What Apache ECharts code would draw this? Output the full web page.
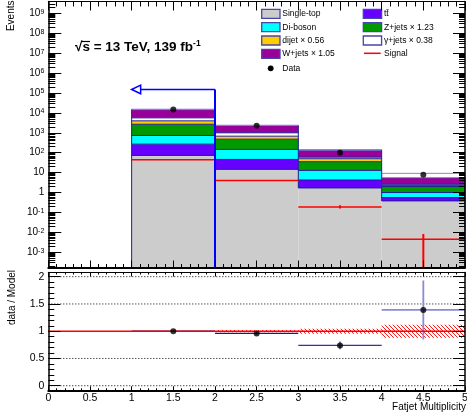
<!DOCTYPE html>
<html>
<head>
<meta charset="utf-8">
<script src="https://cdn.jsdelivr.net/npm/echarts@6/dist/echarts.min.js"></script>
<style>
  html, body { margin: 0; padding: 0; background: #ffffff; }
  #chart { width: 467px; height: 418px; }
</style>
</head>
<body>
<div id="chart"></div>
<script>
// Fatjet multiplicity: stacked background model, signal and data, with data / model ratio.

// Bins
const binLow = [1, 2, 3, 4];
const binHigh = [2, 3, 4, 5];
const binCenter = [1.5, 2.5, 3.5, 4.5];

// Background yields per bin, stack order bottom to top
const singleTop = [73, 14.6, 1.70, 0.38];
const ttbar = [196, 31.4, 2.57, 0.18];
const diboson = [464, 100, 8.7, 0.44];
const zJets = [1957, 333, 22.5, 1.0];
const dijet = [1290, 197, 14.5, 0.3];
const gammaJets = [1640, 324, 10, 0.3];
const wJets = [9000, 1317, 75, 3.0];

// Upper edge of the model uncertainty band
const modelUpper = [15300, 2400, 142, 9.2];

// Observed events
const dataYield = [14600, 2230, 100, 7.8];

// Signal with its uncertainty
const signal = [44.7, 4.0, 0.19, 0.0045];
const signalLow = [43.5, 3.8, 0.16, 0];
const signalHigh = [46, 4.2, 0.23, 0.0082];

// Selection arrow
const cutX = [2];
const cutHeight = [1.5e5];
const cutArrowEnd = [1];

// Ratio panel
const ratio = [1.0, 0.96, 0.74, 1.39];
const ratioLow = [0.99, 0.94, 0.67, 0.85];
const ratioHigh = [1.01, 0.98, 0.81, 1.93];
const modelRelUnc = [0.01, 0.02, 0.045, 0.12];

// Axis ticks
const decadeTicks = [-3, -2, -1, 0, 1, 2, 3, 4, 5, 6, 7, 8, 9];
const ratioTicks = [0, 0.5, 1, 1.5, 2];
const ratioDottedLines = [0, 0.5, 1.5, 2];
const ratioReference = [1];

// Legend text
const legendLeft = ['Single-top', 'Di-boson', 'dijet \u00d7 0.56', 'W+jets \u00d7 1.05'];
const legendRight = ['t\u0074\u0304', 'Z+jets \u00d7 1.23', '\u03b3+jets \u00d7 0.38', 'Signal'];
const legendData = 'Data';

const FONT = '"Liberation Sans", Arial, Helvetica, sans-serif';
const LOGMIN = -3.763, LOGMAX = 9.592;
const RMIN = -0.084, RMAX = 2.077;
const OUTLINE = '#1e1e96';

const layers = [
  { vals: singleTop, color: '#cccccc' },
  { vals: ttbar, color: '#6600ff' },
  { vals: diboson, color: '#00ffff' },
  { vals: zJets, color: '#009900' },
  { vals: dijet, color: '#ffcc00' },
  { vals: gammaJets, color: '#ffffff' },
  { vals: wJets, color: '#990099' }
];
const legendLeftColors = ['#cccccc', '#00ffff', '#ffcc00', '#990099'];
const legendRightColors = ['#6600ff', '#009900', '#ffffff'];

const lg = v => (v > 0 ? Math.log10(v) : LOGMIN);
function cumulative(i) {
  const out = []; let s = 0;
  layers.forEach(l => { s += l.vals[i]; out.push(s); });
  return out;
}
const totals = binCenter.map((_, i) => cumulative(i)[layers.length - 1]);

function seg(api, x1, y1, x2, y2, style) {
  const a = api.coord([x1, y1]), b = api.coord([x2, y2]);
  return { type: 'line', shape: { x1: a[0], y1: a[1], x2: b[0], y2: b[1] }, style: Object.assign({ fill: null }, style) };
}
function box(api, x1, y1, x2, y2, style) {
  const a = api.coord([x1, y1]), b = api.coord([x2, y2]);
  return { type: 'rect', shape: { x: Math.min(a[0], b[0]), y: Math.min(a[1], b[1]), width: Math.abs(b[0] - a[0]), height: Math.abs(b[1] - a[1]) }, style };
}

// Minor tick positions
const minorLog = [];
for (let n = -4; n <= 9; n++) for (let k = 2; k <= 9; k++) {
  const v = n + Math.log10(k);
  if (v > LOGMIN && v < LOGMAX) minorLog.push(v);
}
const ratioMinor = [];
for (let k = 0; k <= 20; k++) { if (k % 5 !== 0) ratioMinor.push(k / 10); }

// Hatch pattern for the ratio band
const hatch = document.createElement('canvas');
hatch.width = 4; hatch.height = 4;
(function () {
  const g = hatch.getContext('2d');
  g.strokeStyle = '#ff0000'; g.lineWidth = 0.9;
  g.beginPath();
  g.moveTo(-1, -1); g.lineTo(5, 5);
  g.moveTo(-1, 3); g.lineTo(1, 5);
  g.moveTo(3, -1); g.lineTo(5, 1);
  g.stroke();
})();

const idx4 = [[0, 0], [1, 0], [2, 0], [3, 0]];

function xAx(grid, pos, major, minor, withLabels, lineW) {
  return {
    type: 'value', gridIndex: grid, position: pos, min: 0, max: 5, interval: 0.5, z: 10,
    axisLine: { show: true, onZero: false, lineStyle: { color: '#000', width: lineW } },
    axisTick: { show: true, inside: true, length: major, lineStyle: { color: '#000', width: 1 } },
    minorTick: { show: true, splitNumber: 5, length: minor, lineStyle: { color: '#000', width: 1 } },
    axisLabel: withLabels ? { show: true, fontSize: 10.5, fontFamily: FONT, color: '#000', margin: 2 } : { show: false },
    splitLine: { show: false }, minorSplitLine: { show: false }
  };
}
function yAx(grid, pos, min, max, ticks, len, line, label) {
  return {
    type: 'value', gridIndex: grid, position: pos, min: min, max: max, z: 10,
    axisLine: { show: line, onZero: false, lineStyle: { color: '#000', width: 1.5 } },
    axisTick: { show: true, inside: true, length: len, customValues: ticks, lineStyle: { color: '#000', width: 1 } },
    axisLabel: label ? Object.assign({ show: true, customValues: ticks, fontFamily: FONT, color: '#000' }, label) : { show: false },
    splitLine: { show: false }
  };
}

const upperLabel = {
  fontSize: 10, margin: 4,
  formatter: v => {
    const n = Math.round(v);
    if (n === 0) return '1';
    if (n === 1) return '10';
    return '{b|10}{s|' + n + '}';
  },
  rich: {
    b: { fontSize: 10, fontFamily: FONT, color: '#000', lineHeight: 10, verticalAlign: 'bottom' },
    s: { fontSize: 7, fontFamily: FONT, color: '#000', lineHeight: 7, padding: [0, 0, 6, 0], verticalAlign: 'top' }
  }
};

const option = {
  animation: false,
  backgroundColor: '#ffffff',
  grid: [
    { left: 48.3, top: 1.5, width: 416.7, height: 266, outerBoundsMode: 'none', containLabel: false },
    { left: 48.3, top: 272.5, width: 416.7, height: 117.8, outerBoundsMode: 'none', containLabel: false }
  ],
  xAxis: [
    xAx(0, 'bottom', 7, 3.5, false, 2),
    xAx(0, 'top', 9, 5, false, 1),
    xAx(1, 'bottom', 4, 2, true, 2),
    xAx(1, 'top', 4, 2, false, 1)
  ],
  yAxis: [
    yAx(0, 'left', LOGMIN, LOGMAX, decadeTicks, 13, true, upperLabel),
    yAx(0, 'left', LOGMIN, LOGMAX, minorLog, 7, false, null),
    yAx(0, 'right', LOGMIN, LOGMAX, decadeTicks, 12, true, null),
    yAx(0, 'right', LOGMIN, LOGMAX, minorLog, 6, false, null),
    yAx(1, 'left', RMIN, RMAX, ratioTicks, 12, true, { fontSize: 10.5, margin: 4 }),
    yAx(1, 'left', RMIN, RMAX, ratioMinor, 6, false, null),
    yAx(1, 'right', RMIN, RMAX, ratioTicks, 12, true, null),
    yAx(1, 'right', RMIN, RMAX, ratioMinor, 6, false, null)
  ],
  series: [
    // stacked backgrounds
    {
      type: 'custom', xAxisIndex: 0, yAxisIndex: 0, data: idx4, clip: true,
      renderItem: (params, api) => {
        const i = api.value(0);
        const cum = cumulative(i);
        const children = [];
        let prev = LOGMIN;
        layers.forEach((l, k) => {
          const top = lg(cum[k]);
          children.push(box(api, binLow[i], prev, binHigh[i], top, { fill: l.color }));
          prev = top;
        });
        cum.forEach(c => children.push(seg(api, binLow[i], lg(c), binHigh[i], lg(c), { stroke: OUTLINE, lineWidth: 1 })));
        return { type: 'group', children };
      }
    },
    // model uncertainty above the stack
    {
      type: 'custom', xAxisIndex: 0, yAxisIndex: 0, data: idx4, clip: true,
      renderItem: (params, api) => {
        const i = api.value(0);
        return box(api, binLow[i], lg(totals[i]), binHigh[i], lg(modelUpper[i]),
          { fill: 'rgba(255,255,255,0.9)', stroke: '#8585d6', lineWidth: 1 });
      }
    },
    // step outline at bin edges
    {
      type: 'custom', xAxisIndex: 0, yAxisIndex: 0, data: [[0, 0], [1, 0], [2, 0], [3, 0], [4, 0]], clip: true,
      renderItem: (params, api) => {
        const j = api.value(0);
        const x = j < binLow.length ? binLow[j] : binHigh[binHigh.length - 1];
        const lows = [], highs = [];
        [j - 1, j].forEach(b => {
          if (b >= 0 && b < binLow.length) { lows.push(lg(singleTop[b])); highs.push(lg(totals[b])); }
          else { lows.push(LOGMIN); }
        });
        return seg(api, x, Math.min.apply(null, lows), x, Math.max.apply(null, highs), { stroke: OUTLINE, lineWidth: 1 });
      }
    },
    // signal
    {
      type: 'custom', xAxisIndex: 0, yAxisIndex: 0, data: idx4, clip: true,
      renderItem: (params, api) => {
        const i = api.value(0);
        return {
          type: 'group', children: [
            seg(api, binLow[i], lg(signal[i]), binHigh[i], lg(signal[i]), { stroke: '#ff0000', lineWidth: 1.5 }),
            seg(api, binCenter[i], lg(signalLow[i]), binCenter[i], lg(signalHigh[i]), { stroke: '#ff0000', lineWidth: 2 })
          ]
        };
      }
    },
    // selection arrow
    {
      type: 'custom', xAxisIndex: 0, yAxisIndex: 0, data: [[0, 0]], clip: false, z: 4,
      renderItem: (params, api) => {
        const top = lg(cutHeight[0]);
        const tip = api.coord([cutArrowEnd[0], top]);
        return {
          type: 'group', children: [
            seg(api, cutX[0], LOGMIN, cutX[0], top, { stroke: '#0000ff', lineWidth: 2 }),
            {
              type: 'polyline',
              shape: { points: [api.coord([cutX[0], top]), [tip[0] + 9, tip[1]]] },
              style: { stroke: '#0000ff', lineWidth: 1.5, fill: null }
            },
            {
              type: 'polygon',
              shape: { points: [[tip[0], tip[1]], [tip[0] + 9, tip[1] - 4.3], [tip[0] + 9, tip[1] + 4.3]] },
              style: { stroke: '#0000ff', lineWidth: 1.5, fill: '#ffffff' }
            }
          ]
        };
      }
    },
    // data points
    {
      type: 'scatter', xAxisIndex: 0, yAxisIndex: 0, z: 5,
      data: binCenter.map((x, i) => [x, lg(dataYield[i])]),
      symbol: 'circle', symbolSize: 6, itemStyle: { color: '#000000' }
    },
    // ratio panel: dotted reference lines
    {
      type: 'custom', xAxisIndex: 2, yAxisIndex: 4, data: ratioDottedLines.map((v, k) => [k, v]), clip: true,
      renderItem: (params, api) => {
        const y = ratioDottedLines[params.dataIndex];
        return seg(api, 0, y, 5, y, { stroke: '#000000', lineWidth: 1, lineDash: [1, 2] });
      }
    },
    // ratio panel: model uncertainty band
    {
      type: 'custom', xAxisIndex: 2, yAxisIndex: 4, data: idx4, clip: true,
      renderItem: (params, api) => {
        const i = api.value(0);
        return box(api, binLow[i], 1 - modelRelUnc[i], binHigh[i], 1 + modelRelUnc[i],
          { fill: { image: hatch, repeat: 'repeat' } });
      }
    },
    // ratio panel: error bars
    {
      type: 'custom', xAxisIndex: 2, yAxisIndex: 4, data: idx4, clip: true,
      renderItem: (params, api) => {
        const i = api.value(0);
        const col = i === 3 ? '#8a8ad6' : (i === 2 ? '#3232a8' : '#1a1a8a');
        const w = i === 3 ? 1.8 : 1.2;
        return {
          type: 'group', children: [
            seg(api, binLow[i], ratio[i], binHigh[i], ratio[i], { stroke: col, lineWidth: w }),
            seg(api, binCenter[i], ratioLow[i], binCenter[i], ratioHigh[i], { stroke: col, lineWidth: w })
          ]
        };
      }
    },
    // ratio panel: unity line
    {
      type: 'custom', xAxisIndex: 2, yAxisIndex: 4, data: [[0, ratioReference[0]]], clip: true,
      renderItem: (params, api) => seg(api, 0, ratioReference[0], 5, ratioReference[0], { stroke: '#ff0000', lineWidth: 1.5 })
    },
    // ratio panel: points
    {
      type: 'scatter', xAxisIndex: 2, yAxisIndex: 4, z: 5,
      data: binCenter.map((x, i) => [x, ratio[i]]),
      symbol: 'circle', symbolSize: 6, itemStyle: { color: '#000000' }
    }
  ],
  graphic: (function () {
    const els = [];
    const rows = [13.8, 27.2, 40.5, 53.8];
    const txt = (x, y, s) => ({ type: 'text', x, y, silent: true, style: { text: s, fontSize: 8.5, fontFamily: FONT, fill: '#000', align: 'left', verticalAlign: 'middle' } });
    legendLeft.forEach((s, k) => {
      els.push({ type: 'rect', shape: { x: 261.7, y: rows[k] - 4.5, width: 18.3, height: 9 }, style: { fill: legendLeftColors[k], stroke: '#4646aa', lineWidth: 1.3 } });
      els.push(txt(282.3, rows[k], s));
    });
    legendRight.forEach((s, k) => {
      if (k < 3) {
        els.push({ type: 'rect', shape: { x: 363.3, y: rows[k] - 4.5, width: 18.3, height: 9 }, style: { fill: legendRightColors[k], stroke: '#4646aa', lineWidth: 1.3 } });
      } else {
        els.push({ type: 'line', shape: { x1: 364, y1: rows[k] - 0.5, x2: 380.7, y2: rows[k] - 0.5 }, style: { stroke: '#ff0000', lineWidth: 1.5 } });
      }
      els.push(txt(384, rows[k], s));
    });
    els.push({ type: 'circle', shape: { cx: 270.7, cy: 68.3, r: 2.9 }, style: { fill: '#000' } });
    els.push(txt(282.3, 68.5, legendData));

    // energy and luminosity
    els.push({
      type: 'text', x: 75, y: 47.5, silent: true,
      style: {
        text: '{b|\u221as = 13 TeV, 139 fb}{s|-1}', align: 'left', verticalAlign: 'middle',
        rich: {
          b: { fontSize: 13.5, fontWeight: 'bold', fontFamily: FONT, fill: '#000', color: '#000', lineHeight: 14 },
          s: { fontSize: 8.5, fontWeight: 'bold', fontFamily: FONT, fill: '#000', color: '#000', lineHeight: 8, padding: [0, 0, 7, 0] }
        }
      }
    });
    // bar over the s of the square root
    els.push({ type: 'line', silent: true, shape: { x1: 81.5, y1: 41.5, x2: 90, y2: 41.5 }, style: { stroke: '#000', lineWidth: 1.2 } });
    // axis titles
    els.push({ type: 'text', x: 11.5, y: 0.5, rotation: Math.PI / 2, silent: true,
      style: { text: 'Events', fontSize: 10, fontFamily: FONT, fill: '#000', align: 'right', verticalAlign: 'middle' } });
    els.push({ type: 'text', x: 12, y: 297.5, rotation: Math.PI / 2, silent: true,
      style: { text: 'data / Model', fontSize: 10, fontFamily: FONT, fill: '#000', align: 'center', verticalAlign: 'middle' } });
    els.push({ type: 'text', x: 466, y: 407, silent: true,
      style: { text: 'Fatjet Multiplicity', fontSize: 10, fontFamily: FONT, fill: '#000', align: 'right', verticalAlign: 'middle' } });
    return els;
  })()
};

const chart = echarts.init(document.getElementById('chart'), null, { renderer: 'canvas' });
chart.setOption(option);
</script>
</body>
</html>
